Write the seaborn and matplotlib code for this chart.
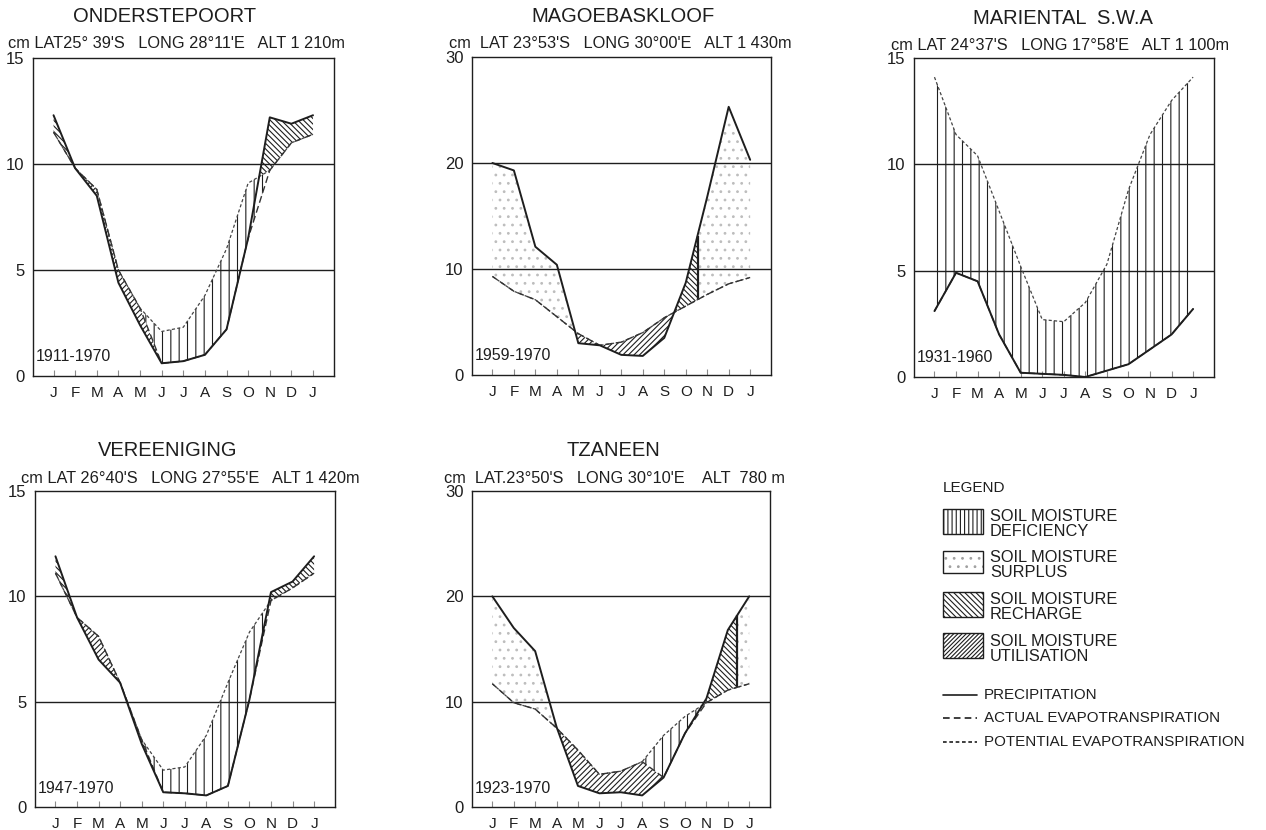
import numpy as np
import matplotlib
matplotlib.use("Agg")
import matplotlib.pyplot as plt
from matplotlib.patches import Rectangle
from matplotlib.lines import Line2D
import seaborn as sns

months = ["J", "F", "M", "A", "M", "J", "J", "A", "S", "O", "N", "D", "J"]
x = np.arange(13)

# cm per month, Jan..Dec..Jan  (P = precipitation, PE = potential ET, AE = actual ET)
ond_p = [12.3, 9.8, 8.5, 4.4, 2.4, 0.6, 0.7, 1.0, 2.2, 6.5, 12.2, 11.9, 12.3]
ond_pe = [11.5, 9.8, 8.8, 5.0, 3.2, 2.1, 2.3, 3.8, 6.0, 9.1, 9.7, 11.0, 11.4]
ond_ae = [11.5, 9.8, 8.8, 5.0, 3.2, 0.6, 0.7, 1.0, 2.2, 6.5, 9.7, 11.0, 11.4]

mag_p = [20.0, 19.3, 12.1, 10.4, 3.0, 2.8, 1.9, 1.8, 3.5, 8.7, 16.8, 25.3, 20.3]
mag_pe = [9.3, 7.9, 7.1, 5.5, 3.9, 2.8, 3.1, 4.0, 5.4, 6.5, 7.6, 8.6, 9.2]
mag_ae = [9.3, 7.9, 7.1, 5.5, 3.9, 2.8, 3.1, 4.0, 5.4, 6.5, 7.6, 8.6, 9.2]

mar_p = [3.1, 4.9, 4.5, 2.0, 0.2, 0.15, 0.1, 0.0, 0.3, 0.6, 1.3, 2.0, 3.2]
mar_pe = [14.1, 11.4, 10.4, 7.8, 5.2, 2.7, 2.6, 3.5, 5.3, 8.8, 11.4, 13.0, 14.1]
mar_ae = [3.1, 4.9, 4.5, 2.0, 0.2, 0.15, 0.1, 0.0, 0.3, 0.6, 1.3, 2.0, 3.2]

ver_p = [11.9, 9.0, 7.0, 5.9, 3.0, 0.7, 0.65, 0.55, 1.0, 5.1, 10.2, 10.7, 11.9]
ver_pe = [11.1, 9.0, 8.1, 5.9, 3.2, 1.75, 1.9, 3.4, 5.9, 8.3, 9.8, 10.4, 11.1]
ver_ae = [11.1, 9.0, 8.1, 5.9, 3.2, 0.7, 0.65, 0.55, 1.0, 5.1, 9.8, 10.4, 11.1]

tza_p = [20.0, 17.0, 14.8, 7.6, 2.0, 1.3, 1.4, 1.1, 2.8, 7.0, 10.3, 16.8, 20.0]
tza_pe = [11.7, 9.9, 9.3, 7.5, 5.4, 3.1, 3.4, 4.3, 6.8, 8.6, 9.9, 11.1, 11.7]
tza_ae = [11.7, 9.9, 9.3, 7.5, 5.4, 3.1, 3.4, 4.3, 2.8, 7.0, 9.9, 11.1, 11.7]

# month span of recharge (the rest of P > PE is surplus)
ond_rech = None
mag_rech = (5.5, 9.55)
mar_rech = None
ver_rech = None
tza_rech = (8.0, 11.45)

stations = [
    ("ONDERSTEPOORT", "cm LAT25° 39'S   LONG 28°11'E   ALT 1 210m", "1911-1970", 15,
     ond_p, ond_pe, ond_ae, ond_rech),
    ("MAGOEBASKLOOF", "cm  LAT 23°53'S   LONG 30°00'E   ALT 1 430m", "1959-1970", 30,
     mag_p, mag_pe, mag_ae, mag_rech),
    ("MARIENTAL  S.W.A", "cm LAT 24°37'S   LONG 17°58'E   ALT 1 100m", "1931-1960", 15,
     mar_p, mar_pe, mar_ae, mar_rech),
    ("VEREENIGING", "cm LAT 26°40'S   LONG 27°55'E   ALT 1 420m", "1947-1970", 15,
     ver_p, ver_pe, ver_ae, ver_rech),
    ("TZANEEN", "cm  LAT.23°50'S   LONG 30°10'E    ALT  780 m", "1923-1970", 30,
     tza_p, tza_pe, tza_ae, tza_rech),
]

W, H = 1266, 830
# axes boxes in pixels: left, top, right, bottom
boxes = [(33, 58, 334, 376), (472, 57, 771, 375), (914, 58, 1214, 377),
         (35, 491, 335, 807), (472, 491, 770, 807)]
title_pos = [(165, 17), (623, 17), (1063, 18), (168, 450), (613, 450)]
sub_pos = [(177, 44), (620, 44), (1060, 45), (190, 478), (615, 478)]

sns.set_theme(style="white")
plt.rcParams["font.family"] = ["Liberation Sans", "DejaVu Sans"]
plt.rcParams["hatch.linewidth"] = 0.8

INK = "#1e1e1e"
DOTS = "#bdbdbd"


def hatch_fill(ax, lo, hi, hatch, color, span=None):
    lo = np.asarray(lo, float)
    hi = np.asarray(hi, float)
    coll = ax.fill_between(x, lo, hi, where=hi > lo, interpolate=True,
                           facecolor="none", edgecolor=color, linewidth=0, hatch=hatch)
    if span is not None:
        clip = Rectangle((span[0], -5), span[1] - span[0], 100, transform=ax.transData)
        coll.set_clip_path(clip)
    return coll


fig = plt.figure(figsize=(W / 100, H / 100), dpi=100)
fig.patch.set_facecolor("white")

for (name, sub, period, ymax, p, pe, ae, rech), box, tp, sp in zip(stations, boxes, title_pos, sub_pos):
    l, t, r, b = box
    ax = fig.add_axes([l / W, 1 - b / H, (r - l) / W, (b - t) / H])
    ax.set_xlim(-0.95, 12.97)
    ax.set_ylim(0, ymax)

    step = ymax / 3
    for g in (step, 2 * step):
        ax.axhline(g, color=INK, lw=1.0, zorder=1)

    # soil moisture regions
    hatch_fill(ax, ae, pe, "||", INK)                      # deficiency
    hatch_fill(ax, p, ae, "//////", INK)                   # utilisation
    if rech is None:
        hatch_fill(ax, pe, p, "\\\\\\\\\\\\", INK)         # recharge
    else:
        hatch_fill(ax, pe, p, "\\\\\\\\\\\\", INK, span=rech)
        hatch_fill(ax, pe, p, "..", DOTS, span=(-2, rech[0]))   # surplus
        hatch_fill(ax, pe, p, "..", DOTS, span=(rech[1], 14))
        ax.vlines(rech[1], np.interp(rech[1], x, pe), np.interp(rech[1], x, p),
                  color=INK, lw=1.6)

    sns.lineplot(x=x, y=pe, ax=ax, color="#444444", linewidth=0.9,
                 linestyle=(0, (2.5, 1.8)), zorder=3)
    sns.lineplot(x=x, y=ae, ax=ax, color="#333333", linewidth=1.0,
                 linestyle=(1, (5, 2.5)), zorder=3)
    sns.lineplot(x=x, y=p, ax=ax, color=INK, linewidth=1.4, zorder=4)

    ax.set_xticks(x)
    ax.set_xticklabels(months, fontsize=11)
    ax.set_yticks([0, step, 2 * step, ymax])
    ax.set_yticklabels([f"{v:g}" for v in (0, step, 2 * step, ymax)], fontsize=12)
    ax.tick_params(axis="x", bottom=True, direction="in", length=4, width=0.8,
                   color="#8a8a8a", pad=7, labelcolor=INK)
    ax.tick_params(axis="y", left=False, length=0, pad=6, labelcolor=INK)
    ax.set_xlabel("")
    ax.set_ylabel("")
    for s in ax.spines.values():
        s.set_color(INK)
        s.set_linewidth(1.0)
        s.set_visible(True)

    ax.text(0.01, 0.06, period, transform=ax.transAxes, fontsize=11.5,
            color=INK, ha="left", va="center")

    fig.text(tp[0] / W, 1 - tp[1] / H, name, fontsize=14.5, color=INK,
             ha="center", va="center")
    fig.text(sp[0] / W, 1 - sp[1] / H, sub, fontsize=11.8, color=INK,
             ha="center", va="center")

# legend panel drawn in pixel coordinates
lg = fig.add_axes([920 / W, 1 - 770 / H, 346 / W, 300 / H])
lg.set_xlim(920, 1266)
lg.set_ylim(770, 470)
lg.axis("off")

lg.text(943, 488, "LEGEND", fontsize=11, color=INK, va="center")
items = [
    ("||||", INK, 509, 25, "SOIL MOISTURE\nDEFICIENCY", 524),
    ("..", "#a0a0a0", 551, 22, "SOIL MOISTURE\nSURPLUS", 565),
    ("\\\\\\\\\\\\", INK, 592, 25, "SOIL MOISTURE\nRECHARGE", 607),
    ("////////", INK, 633, 25, "SOIL MOISTURE\nUTILISATION", 649),
]
for hatch, hc, ytop, hgt, label, ytxt in items:
    lg.add_patch(Rectangle((943, ytop), 40, hgt, facecolor="none", edgecolor=hc,
                           hatch=hatch, linewidth=0))
    lg.add_patch(Rectangle((943, ytop), 40, hgt, facecolor="none", edgecolor=INK,
                           linewidth=1.0))
    lg.text(990, ytxt, label, fontsize=11.8, color=INK, va="center", linespacing=1.0)

line_items = [
    ("-", "PRECIPITATION", 695),
    ((0, (4, 2.5)), "ACTUAL EVAPOTRANSPIRATION", 718),
    ((0, (2.2, 1.6)), "POTENTIAL EVAPOTRANSPIRATION", 742),
]
for ls, label, yy in line_items:
    lg.add_line(Line2D([943, 977], [yy, yy], color=INK, lw=1.2, linestyle=ls))
    lg.text(984, yy, label, fontsize=10.9, color=INK, va="center")

fig.savefig("out.png", dpi=100, facecolor="white")
